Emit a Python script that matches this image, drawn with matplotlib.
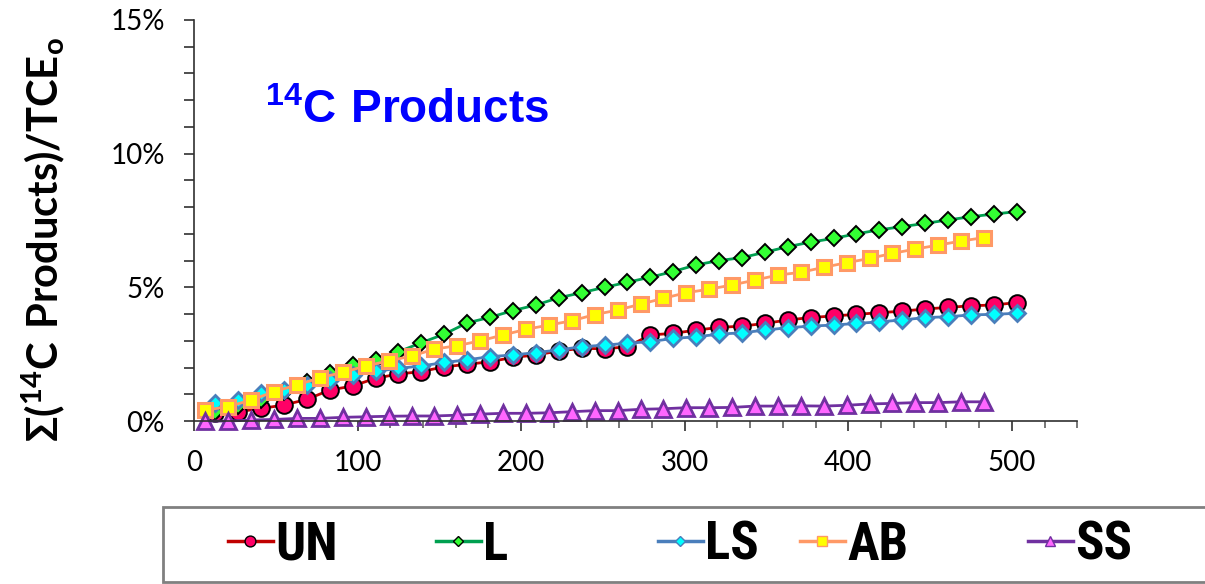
import matplotlib.pyplot as plt
from matplotlib import font_manager
from matplotlib.lines import Line2D
from matplotlib.patches import Rectangle
from matplotlib.ticker import MultipleLocator, PercentFormatter

# Sampling days: UN, L and LS were sampled on one schedule, AB and SS on another
t_a = [13, 27, 41, 55, 69, 83, 97, 111, 125, 139, 153, 167, 181, 195, 209, 223, 237, 251,
       265, 279, 293, 307, 321, 335, 349, 363, 377, 391, 405, 419, 433, 447, 461, 475, 489, 503]
t_b = [7, 21, 35, 49, 63, 77, 91, 105, 119, 133, 147, 161, 175, 189, 203, 217, 231, 245,
       259, 273, 287, 301, 315, 329, 343, 357, 371, 385, 399, 413, 427, 441, 455, 469, 483]

# Cumulative 14C products as percent of initial TCE
un = [0.29, 0.35, 0.47, 0.60, 0.81, 1.16, 1.31, 1.60, 1.76, 1.85, 2.03, 2.12, 2.22, 2.38,
      2.47, 2.62, 2.72, 2.70, 2.78, 3.22, 3.28, 3.40, 3.50, 3.55, 3.65, 3.78, 3.87, 3.93,
      3.99, 4.05, 4.11, 4.19, 4.25, 4.31, 4.34, 4.43]
l = [0.35, 0.55, 0.80, 1.10, 1.45, 1.80, 2.10, 2.30, 2.59, 2.93, 3.25, 3.67, 3.88, 4.13,
     4.34, 4.61, 4.80, 5.00, 5.19, 5.38, 5.59, 5.84, 6.00, 6.11, 6.31, 6.52, 6.69, 6.83,
     7.00, 7.15, 7.27, 7.39, 7.52, 7.64, 7.74, 7.83]
ls = [0.68, 0.80, 1.05, 1.18, 1.35, 1.53, 1.72, 1.86, 1.97, 2.06, 2.19, 2.29, 2.41, 2.47,
      2.56, 2.66, 2.78, 2.84, 2.91, 2.97, 3.09, 3.15, 3.25, 3.30, 3.40, 3.49, 3.55, 3.59,
      3.65, 3.71, 3.78, 3.87, 3.90, 3.97, 3.99, 4.03]
ab = [0.41, 0.54, 0.79, 1.10, 1.35, 1.62, 1.82, 2.06, 2.25, 2.43, 2.69, 2.82, 3.00, 3.22,
      3.43, 3.59, 3.75, 3.98, 4.15, 4.37, 4.59, 4.80, 4.93, 5.09, 5.27, 5.46, 5.56, 5.75,
      5.92, 6.08, 6.27, 6.43, 6.58, 6.73, 6.86]
ss = [0.00, 0.00, 0.04, 0.06, 0.10, 0.10, 0.14, 0.16, 0.18, 0.19, 0.19, 0.22, 0.26, 0.29,
      0.29, 0.31, 0.35, 0.39, 0.39, 0.44, 0.46, 0.50, 0.50, 0.51, 0.56, 0.56, 0.57, 0.56,
      0.59, 0.64, 0.66, 0.69, 0.69, 0.72, 0.72]

labels = ["UN", "L", "LS", "AB", "SS"]

# (line colour, marker, marker size, face, edge, edge width)
styles = {
    "UN": ("#C00000", "o", 12, "#FF0066", "black", 1.4),
    "L": ("#00A050", "D", 8.5, "#33FF33", "black", 1.4),
    "LS": ("#4A7EBB", "D", 8.5, "#00FFFF", "#4A7EBB", 2.0),
    "AB": ("#FF9966", "s", 10.5, "#FFFF00", "#FF9966", 2.2),
    "SS": ("#7030A0", "^", 11, "#FF66FF", "#7030A0", 2.0),
}
series = {"UN": (t_a, un), "L": (t_a, l), "LS": (t_a, ls), "AB": (t_b, ab), "SS": (t_b, ss)}

installed = {f.name for f in font_manager.fontManager.ttflist}
narrow = next((f for f in ["Liberation Sans Narrow", "Roboto Condensed"] if f in installed),
              "DejaVu Sans")

fig = plt.figure(figsize=(12.05, 5.84), dpi=100)
ax = fig.add_axes([0.161, 0.279, 0.733, 0.687])

for name in labels:
    x, y = series[name]
    col, mk, ms, fc, ec, mew = styles[name]
    ax.plot(x, y, color=col, lw=2, marker=mk, markersize=ms, markerfacecolor=fc,
            markeredgecolor=ec, markeredgewidth=mew, clip_on=False)

ax.set_xlim(0, 540)
ax.set_ylim(0, 15)
ax.xaxis.set_major_locator(MultipleLocator(100))
ax.xaxis.set_minor_locator(MultipleLocator(20))
ax.yaxis.set_major_locator(MultipleLocator(5))
ax.yaxis.set_minor_locator(MultipleLocator(1))
ax.yaxis.set_major_formatter(PercentFormatter(xmax=100, decimals=0))

for side in ["top", "right"]:
    ax.spines[side].set_visible(False)
for side in ["left", "bottom"]:
    ax.spines[side].set_color("#303030")
    ax.spines[side].set_linewidth(1.2)

ax.tick_params(axis="x", which="major", length=7, width=1.2, color="#303030", pad=14)
ax.tick_params(axis="x", which="minor", length=5, width=1.2, color="#606060")
ax.tick_params(axis="y", which="both", length=7, width=1.2, color="#303030", pad=14)
for lab in ax.get_xticklabels() + ax.get_yticklabels():
    lab.set_fontfamily("Lato")
    lab.set_fontsize(20)

fig.text(0.036, 0.589, r"$\mathregular{Σ(^{14}C\ Products)/TCE_o}$", rotation=90,
         ha="center", va="center", fontsize=30, fontweight="bold", fontfamily="Lato")

fig.text(0.22, 0.789, r"$\mathregular{^{14}C\ Products}$", ha="left", va="baseline",
         fontsize=33, fontweight="bold", fontfamily="Liberation Sans", color="#0000FF")

# legend strip along the bottom, running off the right edge
fig.add_artist(Rectangle((163 / 1205, 2 / 584), 0.9, 75 / 584, transform=fig.transFigure,
                         facecolor="white", edgecolor="#808080", linewidth=2))

entry_x = [228, 436, 658, 800, 1028]
for name, px in zip(labels, entry_x):
    col, mk, ms, fc, ec, mew = styles[name]
    h = Line2D([], [], color=col, lw=2.5, marker=mk, markersize=ms * 0.65,
               markerfacecolor=fc, markeredgecolor=ec, markeredgewidth=1)
    leg = fig.legend([h], [name], loc="center left",
                     bbox_to_anchor=(px / 1205, 1 - 545 / 584), frameon=False,
                     handlelength=0.85, handletextpad=0.05, borderpad=0, borderaxespad=0,
                     prop={"family": narrow, "weight": "bold", "size": 38,
                           "stretch": "condensed"})

fig.savefig("out.png", dpi=100)
